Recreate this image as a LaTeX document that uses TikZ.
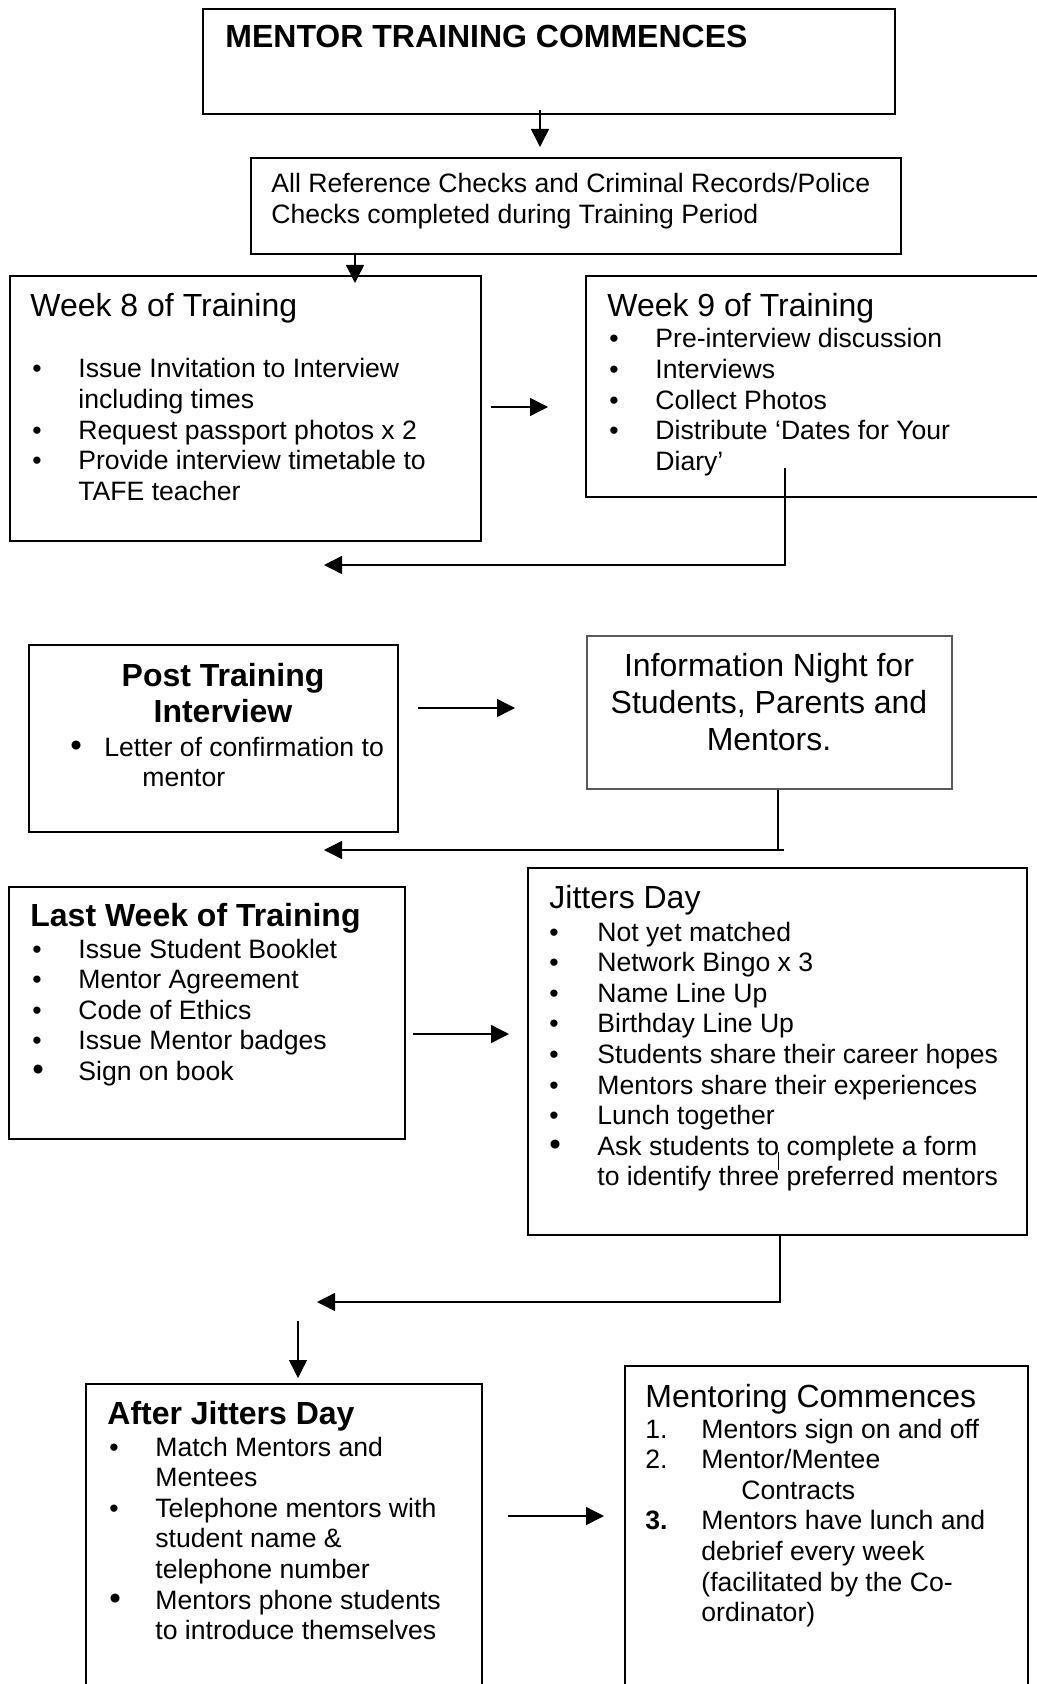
\documentclass[tikz,border=0pt]{standalone}
\usepackage{fontspec}
\setmainfont{Liberation Sans}
\usetikzlibrary{arrows.meta,fit}

\newcommand{\bodyfont}{\fontsize{13.3}{15.3}\selectfont}
\newcommand{\headfont}{\fontsize{16}{18.5}\selectfont}
\newcommand{\bigbul}{\raisebox{0pt}[0pt][0pt]{\fontsize{16.5}{15.3}\selectfont\textbullet}}
\newcommand{\blist}[2]{\begin{tabular}[t]{@{}p{#1}@{}l@{}}#2\end{tabular}}

\begin{document}
\begin{tikzpicture}[x=0.5pt, y=-0.5pt]
  \tikzset{box/.style={draw, line width=0.75pt, inner sep=0pt},
    txt/.style={anchor=base west, inner sep=0pt, font=\bodyfont},
    head/.style={anchor=base west, inner sep=0pt, font=\headfont},
    arr/.style={line width=0.7pt, -{Triangle[length=9pt, width=9pt]}},
    link/.style={line width=0.7pt}}

  \path[use as bounding box, fill=white] (0,0) rectangle (1037,1684);
  \clip (0,0) rectangle (1037,1684);

  % corners of the boxes
  \coordinate (tnw) at (203,9);    \coordinate (tse) at (895,114);
  \coordinate (cnw) at (251,158);  \coordinate (cse) at (901,254);
  \coordinate (w8nw) at (10,276);  \coordinate (w8se) at (481,541);
  \coordinate (w9nw) at (586,276); \coordinate (w9se) at (1060,497);
  \coordinate (pnw) at (29,645);   \coordinate (pse) at (398,832);
  \coordinate (inw) at (587,636);  \coordinate (ise) at (952,789);
  \coordinate (lnw) at (9,887);    \coordinate (lse) at (405,1139);
  \coordinate (jnw) at (528,868);  \coordinate (jse) at (1027,1235);
  \coordinate (anw) at (86,1384);  \coordinate (ase) at (482,1710);
  \coordinate (mnw) at (625,1366); \coordinate (mse) at (1028,1710);

  \node[box, fit=(tnw)(tse)] (start) {};
  \node[box, fit=(cnw)(cse)] (checks) {};
  \node[box, fit=(w8nw)(w8se)] (week8) {};
  \node[box, fit=(w9nw)(w9se)] (week9) {};
  \node[box, fit=(pnw)(pse)] (post) {};
  \node[box, draw=black!65, fit=(inw)(ise)] (info) {};
  \node[box, fit=(lnw)(lse)] (last) {};
  \node[box, fit=(jnw)(jse)] (jitters) {};
  \node[box, fit=(anw)(ase)] (after) {};
  \node[box, fit=(mnw)(mse)] (mentoring) {};

  % texts
  \node[head, font=\headfont\bfseries] (starttxt) at (225,48) {MENTOR TRAINING COMMENCES};
  \node[txt] (checkstxt) at (271,193) {\begin{tabular}[t]{@{}l@{}}All Reference Checks and Criminal Records/Police\\
    Checks completed during Training Period\end{tabular}};

  \node[head] (week8head) at (30,317) {Week 8 of Training};
  \node[txt] (week8txt) at (32,378) {\blist{23pt}{\textbullet & Issue Invitation to Interview\\
    & including times\\
    \textbullet & Request passport photos x 2\\
    \textbullet & Provide interview timetable to\\
    & TAFE teacher}};

  \node[head] (week9head) at (607,317) {Week 9 of Training};
  \node[txt] (week9txt) at (609,348) {\blist{23pt}{\textbullet & Pre-interview discussion\\
    \textbullet & Interviews\\
    \textbullet & Collect Photos\\
    \textbullet & Distribute ‘Dates for Your\\
    & Diary’}};

  \node[head, anchor=base, font=\fontsize{16}{18}\selectfont\bfseries] (posthead) at (223,686)
    {\begin{tabular}[t]{@{}c@{}}Post Training\\ Interview\end{tabular}};
  \node[txt] (posttxt) at (70,756) {\blist{17pt}{\bigbul & Letter of confirmation to\\
    & \hspace{19pt}mentor}};

  \node[head, anchor=base] (infotxt) at (769,676)
    {\begin{tabular}[t]{@{}c@{}}Information Night for\\ Students, Parents and\\ Mentors.\end{tabular}};

  \node[head, font=\headfont\bfseries] (lasthead) at (30,926) {Last Week of Training};
  \node[txt] (lasttxt) at (32,958) {\blist{23pt}{\textbullet & Issue Student Booklet\\
    \textbullet & Mentor Agreement\\
    \textbullet & Code of Ethics\\
    \textbullet & Issue Mentor badges\\
    \bigbul & Sign on book}};

  \node[head] (jittershead) at (549,908) {Jitters Day};
  \node[txt] (jitterstxt) at (549,941) {\blist{24pt}{\textbullet & Not yet matched\\
    \textbullet & Network Bingo x 3\\
    \textbullet & Name Line Up\\
    \textbullet & Birthday Line Up\\
    \textbullet & Students share their career hopes\\
    \textbullet & Mentors share their experiences\\
    \textbullet & Lunch together\\
    \bigbul & Ask students to complete a form\\
    & to identify three preferred mentors}};

  \node[head, font=\headfont\bfseries] (afterhead) at (107,1424) {After Jitters Day};
  \node[txt] (aftertxt) at (109,1456) {\blist{23pt}{\textbullet & Match Mentors and\\
    & Mentees\\
    \textbullet & Telephone mentors with\\
    & student name \&\\
    & telephone number\\
    \bigbul & Mentors phone students\\
    & to introduce themselves}};

  \node[head] (mentoringhead) at (645,1407) {Mentoring Commences};
  \node[txt] (mentoringtxt) at (645,1438) {\blist{28pt}{1. & Mentors sign on and off\\
    2. & Mentor/Mentee\\
    & \hspace{20pt}Contracts\\
    \textbf{3.} & Mentors have lunch and\\
    & debrief every week\\
    & (facilitated by the Co-\\
    & ordinator)}};

  % connectors
  \coordinate (c1) at (540,110);  \coordinate (c2) at (540,147);
  \coordinate (c3) at (355,283);
  \coordinate (c4) at (491,407);  \coordinate (c5) at (548,407);
  \coordinate (c6) at (785,468);  \coordinate (c7) at (324,565);
  \coordinate (c8) at (418,708);  \coordinate (c9) at (515,708);
  \coordinate (c10) at (778,850); \coordinate (c11) at (784,850);
  \coordinate (c12) at (324,850);
  \coordinate (c13) at (413,1034); \coordinate (c14) at (509,1034);
  \coordinate (c15) at (317,1302);
  \coordinate (c16) at (778,1152); \coordinate (c17) at (778,1170);
  \coordinate (c18) at (298,1321); \coordinate (c19) at (298,1378);
  \coordinate (c20) at (508,1516); \coordinate (c21) at (604,1516);

  \draw[arr] (c1) -- (c2);
  \draw[arr] (checks.south -| c3) -- (c3);
  \draw[arr] (c4) -- (c5);
  \draw[arr] (c6) |- (c7);
  \draw[arr] (c8) -- (c9);
  \draw[link] (info.south -| c10) -- (c10);
  \draw[arr] (c11) -- (c12);
  \draw[arr] (c13) -- (c14);
  \draw[arr] (jitters.south -| 780,0) |- (c15);
  \draw[link, line width=0.5pt] (c16) -- (c17);
  \draw[arr] (c18) -- (c19);
  \draw[arr] (c20) -- (c21);
\end{tikzpicture}
\end{document}
